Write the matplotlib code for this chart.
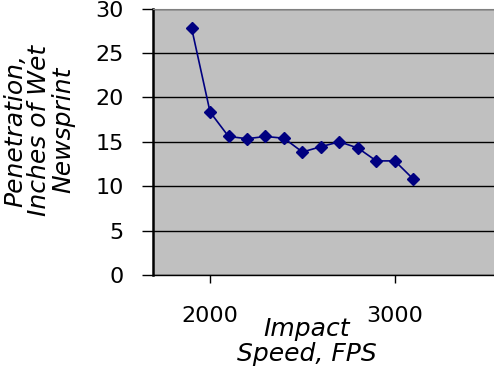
import numpy as np
import matplotlib
matplotlib.use('Agg')
import matplotlib.pyplot as plt

# impact speed (FPS) and penetration (inches of wet newsprint)
speed_fps = [1900, 2000, 2100, 2200, 2300, 2400, 2500, 2600, 2700, 2800, 2900, 3000, 3100]
penetration_in = [27.8, 18.35, 15.6, 15.35, 15.6, 15.4, 13.85, 14.45, 15.0, 14.3, 12.85, 12.85, 10.8]

x_ticks = [2000, 3000]
y_ticks = [0, 5, 10, 15, 20, 25, 30]

plt.rcParams['font.family'] = ['DejaVu Sans']

fig = plt.figure(figsize=(4.94, 3.75), dpi=100)
ax = fig.add_axes([153 / 494, 100 / 375, 341 / 494, 266.4 / 375])
ax.set_facecolor('#c0c0c0')

ax.plot(speed_fps, penetration_in, color='#000080', lw=1.2, marker='D', ms=6,
        markeredgecolor='#000080', markerfacecolor='#000080', zorder=3)

ax.set_xlim(1691, 3537)
ax.set_ylim(0, 30)
ax.set_xticks(x_ticks)
ax.set_yticks(y_ticks)
ax.yaxis.grid(True, color='black', lw=1)
ax.set_axisbelow(True)

ax.tick_params(axis='y', direction='out', length=8, width=1, pad=13, labelsize=16)
ax.tick_params(axis='x', direction='out', length=6, width=1, pad=16, labelsize=16)

ax.spines['right'].set_visible(False)
ax.spines['top'].set_color('#808080')
ax.spines['left'].set_linewidth(1.8)
ax.spines['bottom'].set_linewidth(1)

ax.set_ylabel('Penetration,\nInches of Wet\nNewsprint', fontsize=18, style='italic',
              linespacing=1.0, ha='center', va='center')
ax.yaxis.set_label_coords(-0.334, 0.544)
ax.set_xlabel('Impact\nSpeed, FPS', fontsize=18, style='italic', linespacing=1.05,
              ha='center', va='center')
ax.xaxis.set_label_coords(0.4516, -0.248)

fig.savefig('out.png', dpi=100)
